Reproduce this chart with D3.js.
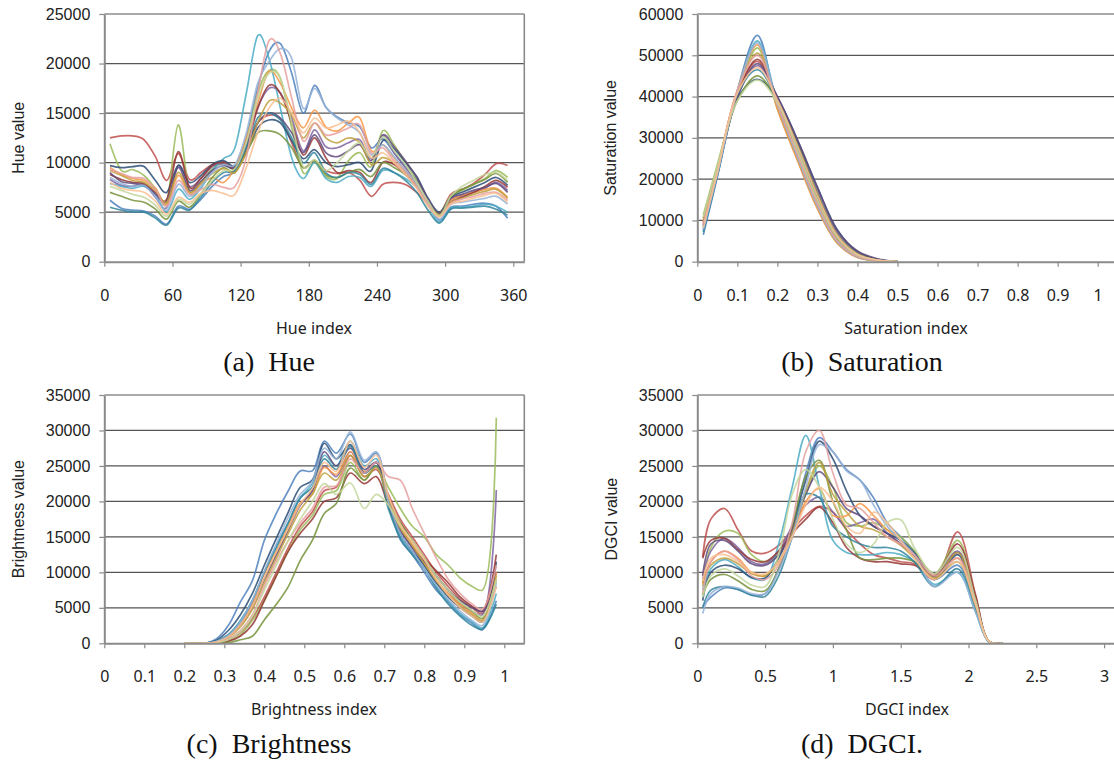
<!DOCTYPE html>
<html>
<head>
<meta charset="utf-8">
<script src="https://cdn.jsdelivr.net/npm/d3@7"></script>
<style>
  body { margin: 0; background: #fff; }
  svg { display: block; }
</style>
</head>
<body>
<svg id="chart" width="1114" height="761"></svg>
<script>
// ---- data (values in thousands) ----
const palette = ['#4F81BD', '#C0504D', '#9BBB59', '#8064A2', '#4BACC6', '#F79646', '#2C4D75', '#953735',
  '#77933C', '#604A7B', '#31859C', '#C0A040', '#95B3D7', '#E6A0A0', '#C3D69B', '#FAC090'];

const hueIndex = [5, 15, 25, 35, 45, 55, 65, 75, 85, 95, 105, 115, 125, 135, 145, 155, 165, 175, 185, 195,
  205, 215, 225, 235, 245, 255, 265, 275, 285, 295, 305, 315, 325, 335, 345, 355];
const hueTicks = [0, 60, 120, 180, 240, 300, 360];
const hueValueTicks = [0, 5000, 10000, 15000, 20000, 25000];
const hueSeries = [
  [6.2, 5.4, 5.2, 5.1, 4.6, 3.8, 5.6, 5.3, 6.3, 7.6, 8.6, 9.2, 12.5, 17.5, 21.2, 22.0, 19.0, 15.0, 17.8, 15.6, 14.6, 14.0, 13.6, 11.5, 12.4, 11.0, 9.6, 8.2, 6.2, 4.2, 5.5, 5.6, 5.8, 5.9, 5.6, 4.4],
  [12.5, 12.7, 12.7, 12.3, 10.6, 8.2, 10.9, 8.3, 9.0, 9.8, 10.1, 9.6, 11.5, 14.0, 14.8, 14.4, 12.0, 9.5, 10.2, 9.2, 8.9, 9.0, 8.2, 6.6, 7.8, 8.0, 7.8, 7.0, 5.8, 4.9, 6.8, 7.3, 7.9, 8.8, 9.9, 9.7],
  [11.9, 9.2, 9.3, 8.7, 7.4, 6.0, 13.8, 7.0, 8.0, 9.4, 9.9, 9.4, 12.0, 17.0, 19.3, 18.5, 13.5, 9.0, 10.0, 8.6, 8.4, 10.2, 11.0, 9.6, 13.2, 11.8, 10.0, 8.2, 6.2, 4.8, 6.6, 7.2, 7.8, 8.4, 9.2, 8.5],
  [8.3, 7.7, 7.6, 7.8, 6.5, 5.5, 9.7, 7.6, 8.4, 9.6, 9.9, 9.5, 11.8, 15.5, 17.5, 17.0, 14.5, 11.2, 13.3, 11.6, 11.5, 12.0, 12.3, 10.4, 12.7, 11.0, 9.5, 8.0, 6.0, 4.7, 6.3, 6.6, 7.0, 7.4, 8.0, 7.2],
  [7.9, 7.6, 7.4, 7.6, 6.8, 5.0, 7.3, 6.3, 7.4, 9.2, 10.4, 11.5, 17.0, 22.8, 20.5, 15.5, 10.5, 8.4, 10.0, 8.4, 8.0, 8.6, 8.5, 7.6, 9.2, 9.0, 8.4, 7.5, 5.7, 4.0, 5.4, 5.5, 5.6, 5.8, 5.6, 5.0],
  [9.5, 8.8, 8.4, 8.2, 7.4, 5.8, 8.7, 6.9, 7.8, 8.5, 8.0, 9.5, 12.5, 16.0, 19.2, 18.0, 15.5, 13.5, 15.3, 13.6, 13.2, 14.0, 14.5, 11.2, 11.8, 10.5, 9.2, 7.8, 6.0, 4.8, 6.2, 6.7, 7.0, 7.3, 7.4, 6.5],
  [9.7, 9.5, 9.6, 9.6, 8.2, 7.0, 9.7, 8.0, 8.7, 9.8, 10.2, 9.6, 11.0, 13.5, 14.3, 14.0, 12.2, 10.4, 11.3, 10.0, 9.6, 9.8, 10.0, 9.2, 12.2, 11.4, 10.0, 8.6, 6.4, 5.0, 6.5, 7.0, 7.5, 8.0, 8.5, 7.7],
  [8.8, 8.3, 8.0, 7.9, 7.0, 6.3, 11.1, 7.5, 8.4, 9.7, 10.0, 9.4, 11.5, 15.5, 17.8, 17.0, 14.0, 10.8, 12.5, 10.5, 9.0, 9.2, 9.0, 8.0, 10.0, 9.8, 8.8, 7.6, 5.8, 4.6, 6.0, 6.5, 7.0, 7.6, 8.2, 7.5],
  [7.0, 6.6, 6.2, 6.0, 5.3, 4.3, 6.1, 5.5, 6.8, 8.5, 9.5, 9.0, 11.0, 13.0, 13.2, 12.8, 11.5, 9.5, 10.2, 8.8, 8.5, 9.0, 9.3, 8.6, 10.0, 9.5, 8.8, 7.8, 6.0, 4.9, 6.6, 7.3, 7.8, 8.3, 8.9, 8.0],
  [9.0, 8.1, 7.9, 7.7, 6.8, 6.1, 9.5, 7.2, 8.1, 9.2, 9.7, 9.5, 11.5, 14.0, 15.0, 14.5, 13.0, 11.0, 12.8, 11.0, 10.6, 11.2, 11.8, 10.2, 12.8, 11.6, 10.2, 8.5, 6.3, 4.9, 6.4, 6.8, 7.2, 7.5, 7.9, 7.0],
  [5.5, 5.2, 5.0, 5.0, 4.4, 3.7, 5.4, 5.2, 6.5, 8.0, 9.0, 9.2, 11.5, 14.5, 15.0, 14.3, 12.5, 10.0, 11.0, 9.0, 8.5, 9.0, 8.8, 7.8, 9.4, 9.0, 8.2, 7.0, 5.2, 3.9, 5.3, 5.4, 5.5, 5.6, 5.3, 4.7],
  [9.2, 8.7, 8.2, 8.0, 7.2, 6.0, 9.0, 7.0, 7.9, 8.9, 9.4, 9.0, 11.0, 14.0, 16.2, 16.0, 14.8, 12.5, 14.0, 12.5, 12.0, 12.5, 12.0, 9.8, 10.5, 10.0, 9.0, 7.8, 5.9, 4.7, 6.0, 6.4, 6.8, 7.1, 7.3, 6.4],
  [8.5, 7.9, 7.6, 7.7, 6.6, 5.2, 7.8, 6.6, 7.6, 9.0, 9.8, 9.8, 13.0, 18.0, 20.2, 21.5, 20.5, 15.5, 17.5, 15.6, 14.5, 13.8, 13.0, 10.8, 11.8, 10.6, 9.2, 7.8, 5.9, 4.3, 5.8, 6.0, 6.2, 6.4, 6.6, 5.8],
  [9.3, 8.9, 8.5, 8.4, 7.3, 5.6, 8.2, 6.8, 7.3, 7.8, 7.5, 7.6, 10.5, 17.0, 22.3, 21.0, 16.5, 12.2, 14.0, 12.8, 13.0, 13.5, 13.8, 11.0, 11.5, 10.2, 9.0, 7.6, 5.8, 4.6, 5.9, 6.3, 6.6, 6.9, 7.0, 6.2],
  [7.6, 7.2, 6.8, 6.5, 5.7, 4.6, 6.3, 5.8, 6.9, 8.2, 9.2, 9.4, 12.0, 16.5, 19.0, 18.5, 14.0, 9.6, 10.3, 9.2, 10.0, 11.2, 12.0, 10.5, 12.6, 11.2, 9.8, 8.0, 6.1, 4.6, 6.6, 7.6, 8.2, 8.8, 9.0, 8.2],
  [8.0, 7.4, 7.2, 7.0, 6.1, 4.8, 6.5, 6.0, 6.9, 7.2, 6.9, 6.8, 9.5, 13.0, 15.5, 16.5, 15.0, 13.0, 14.5, 13.5, 13.8, 14.2, 13.0, 10.5, 11.0, 10.0, 8.8, 7.4, 5.6, 4.5, 5.8, 6.1, 6.4, 6.7, 6.9, 6.0]
];

const satIndex = [0.015, 0.05, 0.1, 0.15, 0.2, 0.25, 0.3, 0.35, 0.4, 0.45, 0.5];
const satTicks = [0, 0.1, 0.2, 0.3, 0.4, 0.5, 0.6, 0.7, 0.8, 0.9, 1];
const satValueTicks = [0, 10000, 20000, 30000, 40000, 50000, 60000];
const satSeries = [
  [6.5, 20.5, 41.5, 54.8, 37.5, 25.0, 13.5, 4.8, 1.2, 0.3, 0],
  [9.0, 22.0, 41.0, 48.5, 39.0, 27.5, 15.5, 6.0, 1.6, 0.4, 0],
  [11.3, 23.5, 40.5, 51.8, 37.0, 24.8, 13.0, 4.5, 1.1, 0.2, 0],
  [8.0, 21.0, 40.0, 47.5, 40.0, 29.0, 17.0, 7.0, 2.0, 0.5, 0],
  [7.5, 21.0, 41.0, 53.5, 38.5, 25.0, 13.2, 4.6, 1.1, 0.3, 0],
  [10.0, 22.5, 41.5, 52.5, 37.0, 24.5, 12.8, 4.4, 1.0, 0.2, 0],
  [8.5, 21.5, 39.5, 44.2, 39.5, 29.5, 18.0, 7.7, 2.4, 0.6, 0],
  [9.5, 22.0, 40.5, 49.0, 39.5, 28.0, 16.0, 6.2, 1.8, 0.4, 0],
  [10.5, 22.5, 39.0, 45.0, 39.0, 28.5, 16.5, 6.5, 1.9, 0.5, 0],
  [8.8, 21.5, 39.8, 48.0, 40.0, 29.5, 18.0, 7.5, 2.6, 0.7, 0],
  [7.2, 20.8, 40.5, 46.5, 39.0, 27.5, 15.0, 5.5, 1.5, 0.4, 0],
  [9.8, 22.2, 41.0, 50.5, 38.5, 26.5, 14.5, 5.2, 1.4, 0.3, 0],
  [7.8, 21.2, 41.2, 53.0, 38.0, 25.5, 13.5, 4.8, 1.2, 0.3, 0],
  [9.2, 22.2, 41.5, 50.0, 38.0, 26.0, 14.0, 5.0, 1.3, 0.3, 0],
  [10.8, 23.0, 39.0, 44.0, 38.5, 27.0, 15.0, 5.8, 1.6, 0.4, 0],
  [8.2, 21.5, 40.8, 47.0, 39.2, 28.0, 16.0, 6.2, 1.8, 0.4, 0]
];

const brightIndex = [0.2, 0.25, 0.28, 0.31, 0.34, 0.37, 0.40, 0.43, 0.46, 0.49, 0.52, 0.55, 0.58, 0.615,
  0.65, 0.68, 0.71, 0.74, 0.77, 0.80, 0.83, 0.86, 0.89, 0.92, 0.945, 0.98];
const brightTicks = [0, 0.1, 0.2, 0.3, 0.4, 0.5, 0.6, 0.7, 0.8, 0.9, 1];
const brightValueTicks = [0, 5000, 10000, 15000, 20000, 25000, 30000, 35000];
const brightSeries = [
  [0, 0, 0.6, 2.5, 5.8, 8.8, 14.5, 18.3, 21.5, 24.3, 24.3, 28.5, 26.8, 29.5, 25.5, 26.8, 20.5, 14.6, 12.5, 10.0, 7.5, 5.8, 4.0, 2.8, 1.9, 6.0],
  [0, 0, 0.1, 0.5, 1.5, 3.5, 6.5, 10.0, 13.5, 16.5, 18.5, 21.5, 22.0, 26.5, 23.5, 24.5, 21.0, 17.5, 15.0, 12.5, 10.0, 8.0, 6.2, 5.0, 4.2, 10.0],
  [0, 0, 0.05, 0.3, 1.2, 3.2, 6.0, 9.5, 13.0, 16.0, 18.0, 21.0, 21.5, 25.5, 23.0, 25.0, 22.0, 19.0, 16.5, 15.0, 12.5, 11.0, 9.2, 8.0, 7.5, 31.8],
  [0, 0, 0.2, 1.0, 2.8, 5.5, 9.0, 12.5, 16.0, 19.5, 21.5, 25.0, 23.5, 27.0, 24.0, 25.5, 20.0, 16.0, 13.5, 11.0, 8.5, 7.0, 5.5, 4.5, 4.0, 21.6],
  [0, 0, 0.3, 1.2, 3.2, 6.0, 10.0, 13.8, 17.0, 20.5, 22.5, 26.5, 25.0, 28.5, 25.0, 26.0, 19.5, 15.0, 12.8, 10.5, 8.0, 6.0, 4.2, 3.0, 2.2, 7.0],
  [0, 0, 0.2, 0.9, 2.6, 5.4, 9.8, 13.0, 16.5, 19.8, 21.0, 24.8, 23.8, 27.0, 24.2, 25.0, 20.5, 16.5, 14.0, 11.5, 9.0, 7.0, 5.5, 4.2, 3.2, 10.0],
  [0, 0, 0.4, 1.8, 4.0, 7.0, 11.0, 14.8, 18.5, 22.0, 23.0, 28.2, 26.0, 28.0, 24.0, 25.5, 19.5, 15.5, 13.0, 11.0, 8.5, 6.5, 5.0, 3.8, 3.0, 11.5],
  [0, 0, 0.05, 0.3, 1.0, 2.6, 6.0, 9.5, 13.0, 15.5, 17.5, 20.0, 20.5, 24.0, 22.5, 23.5, 19.5, 17.0, 14.5, 12.0, 10.2, 8.5, 6.5, 5.2, 4.5, 12.5],
  [0, 0, 0, 0.1, 0.5, 1.0, 3.3, 5.5, 8.0, 11.7, 14.5, 18.3, 19.7, 24.7, 23.0, 25.0, 20.5, 17.0, 14.5, 12.0, 9.5, 7.5, 5.8, 4.5, 3.5, 9.0],
  [0, 0, 0.2, 0.9, 2.5, 5.0, 9.0, 12.5, 16.0, 19.5, 21.5, 27.0, 25.0, 27.5, 24.5, 25.5, 20.0, 16.0, 13.5, 11.5, 9.5, 7.5, 6.0, 5.0, 4.5, 8.0],
  [0, 0, 0.3, 1.2, 3.0, 6.0, 10.0, 13.5, 17.0, 20.5, 22.0, 26.0, 24.5, 27.8, 24.0, 25.0, 19.0, 14.8, 12.5, 10.5, 7.8, 5.5, 3.8, 2.5, 2.0, 5.5],
  [0, 0, 0.15, 0.8, 2.3, 4.8, 8.5, 12.0, 15.5, 18.8, 21.0, 24.0, 23.0, 26.5, 23.5, 24.8, 20.0, 16.2, 13.8, 11.2, 8.8, 6.8, 5.2, 4.0, 3.2, 9.5],
  [0, 0, 0.25, 1.1, 3.0, 6.0, 10.2, 14.0, 17.8, 21.0, 22.8, 27.5, 26.0, 29.8, 25.8, 27.0, 20.0, 15.5, 13.0, 10.5, 8.2, 6.2, 4.5, 3.2, 2.5, 8.5],
  [0, 0, 0.1, 0.6, 1.8, 4.0, 8.0, 11.5, 14.5, 17.0, 19.0, 22.0, 22.2, 26.0, 24.0, 25.5, 23.5, 23.0, 19.0, 15.5, 12.0, 9.0, 7.0, 5.5, 4.8, 11.0],
  [0, 0, 0.1, 0.5, 1.6, 3.8, 7.5, 11.0, 14.5, 17.5, 20.0, 22.5, 21.0, 22.6, 19.0, 21.0, 19.5, 16.5, 14.5, 12.0, 9.5, 7.5, 5.8, 4.6, 3.8, 9.0],
  [0, 0, 0.2, 0.9, 2.6, 5.2, 9.2, 12.8, 16.2, 19.6, 21.8, 25.5, 24.2, 28.5, 24.8, 26.5, 20.8, 16.8, 14.2, 11.8, 9.0, 6.8, 5.0, 3.8, 3.0, 8.0]
];

const dgciIndex = [0.04, 0.1, 0.2, 0.3, 0.4, 0.5, 0.6, 0.7, 0.8, 0.9, 1.0, 1.1, 1.2, 1.3, 1.4, 1.5, 1.6,
  1.75, 1.92, 2.05, 2.15, 2.25];
const dgciTicks = [0, 0.5, 1, 1.5, 2, 2.5, 3];
const dgciValueTicks = [0, 5000, 10000, 15000, 20000, 25000, 30000, 35000];
const dgciSeries = [
  [5.2, 6.5, 7.8, 7.6, 6.8, 7.0, 10.5, 16.0, 24.0, 29.0, 27.0, 24.5, 23.0, 20.5, 17.0, 15.0, 13.0, 9.0, 11.0, 5.5, 0.3, 0],
  [12.2, 17.5, 19.0, 16.0, 13.0, 12.7, 13.8, 16.0, 18.0, 19.3, 18.5, 16.0, 14.0, 12.5, 12.0, 11.5, 11.2, 9.0, 15.7, 7.0, 0.3, 0],
  [8.0, 13.5, 15.8, 15.5, 12.5, 11.5, 12.5, 16.0, 21.0, 25.0, 22.0, 17.0, 16.5, 17.0, 16.0, 15.0, 13.0, 9.8, 14.5, 6.5, 0.3, 0],
  [9.0, 13.0, 14.8, 13.5, 11.5, 11.2, 13.0, 16.5, 19.5, 20.6, 18.5, 16.5, 17.0, 17.5, 15.5, 14.0, 12.5, 9.8, 13.0, 6.0, 0.3, 0],
  [7.5, 10.5, 11.8, 10.8, 9.2, 9.0, 14.0, 22.0, 29.3, 22.0, 14.5, 12.8, 12.5, 12.5, 12.8, 12.5, 11.5, 8.3, 10.0, 4.5, 0.2, 0],
  [8.3, 11.5, 13.0, 12.0, 10.0, 9.5, 11.5, 15.0, 20.0, 21.8, 18.0, 18.0, 19.7, 18.0, 16.0, 14.5, 12.5, 9.6, 12.0, 5.8, 0.3, 0],
  [6.0, 10.0, 11.0, 10.5, 9.3, 9.2, 12.0, 16.5, 23.0, 28.5, 26.0, 21.5, 18.0, 16.5, 15.5, 14.5, 12.8, 9.0, 12.5, 5.5, 0.3, 0],
  [12.0, 14.5, 14.8, 13.2, 11.8, 11.5, 13.0, 15.5, 17.5, 19.2, 17.0, 13.5, 12.0, 11.5, 11.5, 11.2, 11.0, 9.5, 14.0, 6.8, 0.3, 0],
  [6.8, 9.0, 9.7, 8.8, 7.6, 7.4, 10.5, 16.5, 23.5, 25.8, 20.0, 16.0, 12.0, 11.8, 12.0, 12.0, 11.5, 9.2, 11.5, 5.2, 0.2, 0],
  [9.5, 14.0, 14.5, 13.0, 11.2, 11.0, 12.5, 16.0, 21.0, 24.2, 22.0, 19.0, 18.0, 16.5, 15.5, 14.0, 12.2, 9.4, 12.8, 5.8, 0.3, 0],
  [5.0, 7.5, 8.0, 7.6, 6.8, 6.6, 9.5, 15.0, 21.0, 20.5, 16.5, 15.0, 14.0, 13.5, 13.5, 13.0, 11.5, 8.0, 10.5, 4.8, 0.2, 0],
  [8.5, 11.0, 12.0, 11.2, 9.8, 9.5, 11.5, 15.5, 21.5, 25.5, 21.0, 18.5, 16.5, 16.0, 15.0, 13.8, 12.0, 9.2, 12.8, 5.6, 0.3, 0],
  [4.2, 7.0, 8.0, 7.8, 7.0, 7.0, 10.2, 15.0, 22.0, 28.0, 27.0, 24.3, 23.0, 19.5, 16.5, 14.5, 12.5, 8.0, 10.0, 4.5, 0.2, 0],
  [7.0, 11.5, 13.0, 11.8, 9.5, 9.0, 11.0, 17.0, 27.0, 30.0, 24.0, 19.5, 19.0, 17.0, 15.0, 14.0, 12.5, 9.5, 12.0, 5.8, 0.3, 0],
  [6.5, 9.5, 10.5, 9.5, 8.2, 8.0, 12.5, 21.0, 24.5, 22.0, 17.5, 14.0, 12.8, 14.0, 17.0, 17.4, 13.5, 9.8, 13.5, 6.2, 0.3, 0],
  [8.8, 12.0, 12.5, 11.5, 10.0, 9.8, 11.5, 15.0, 19.5, 22.0, 20.0, 16.5, 15.5, 18.5, 17.0, 14.5, 12.0, 9.0, 11.5, 5.5, 0.3, 0]
];

// ---- drawing ----
const svg = d3.select('#chart');

function drawPanel(p) {
  const g = svg.append('g');
  const x = d3.scaleLinear().domain([0, p.xEnd]).range([p.left, p.right]);
  const y = d3.scaleLinear().domain([0, p.yMax]).range([p.bottom, p.top]);

  // gridlines
  g.append('g')
    .selectAll('line')
    .data(p.yTicks.filter(d => d > 0))
    .join('line')
    .attr('x1', p.left).attr('x2', p.right)
    .attr('y1', d => y(d)).attr('y2', d => y(d))
    .attr('stroke', '#555').attr('stroke-width', 1.2);

  // series
  const clipId = 'clip' + p.id;
  svg.append('clipPath').attr('id', clipId)
    .append('rect')
    .attr('x', p.left).attr('y', p.top - 6)
    .attr('width', p.right - p.left).attr('height', p.bottom - p.top + 6);

  const line = d3.line()
    .x((d, i) => x(p.xs[i]))
    .y(d => y(d * 1000))
    .curve(d3.curveCatmullRom.alpha(p.alpha));

  g.append('g')
    .attr('clip-path', `url(#${clipId})`)
    .selectAll('path')
    .data(p.series)
    .join('path')
    .attr('fill', 'none')
    .attr('stroke', (d, i) => palette[i % palette.length])
    .attr('stroke-width', 1.7)
    .attr('stroke-opacity', 0.85)
    .attr('d', line);

  // y axis
  const yAxis = g.append('g')
    .attr('transform', `translate(${p.left},0)`)
    .call(d3.axisLeft(y).tickValues(p.yTicks).tickSize(5).tickSizeOuter(0).tickPadding(9).tickFormat(d => d));
  yAxis.select('.domain').attr('stroke', '#8a8a8a').attr('stroke-width', 2);
  yAxis.selectAll('.tick line').attr('stroke', '#8a8a8a').attr('stroke-width', 1.2);
  yAxis.selectAll('text')
    .attr('font-family', '"Liberation Sans", Arial, sans-serif')
    .attr('font-size', 16).attr('fill', '#222');

  // x axis
  const xAxis = g.append('g')
    .attr('transform', `translate(0,${p.bottom})`)
    .call(d3.axisBottom(x).tickValues(p.xTicks).tickSize(5).tickSizeOuter(0).tickFormat(d => d));
  xAxis.select('.domain').attr('stroke', '#8a8a8a').attr('stroke-width', 2);
  xAxis.selectAll('.tick line').attr('stroke', '#8a8a8a').attr('stroke-width', 1.2);
  xAxis.selectAll('text')
    .attr('y', 39).attr('dy', null)
    .attr('font-family', '"Noto Sans", sans-serif')
    .attr('font-size', 16).attr('fill', '#222');

  if (p.border) {
    g.append('line')
      .attr('x1', p.right).attr('x2', p.right)
      .attr('y1', p.top).attr('y2', p.bottom)
      .attr('stroke', '#8a8a8a').attr('stroke-width', 1.6);
  }

  // titles
  g.append('text')
    .attr('transform', `translate(${p.yTitleX},${(p.top + p.bottom) / 2}) rotate(-90)`)
    .attr('text-anchor', 'middle').attr('dy', '0.35em')
    .attr('font-family', '"Liberation Sans", Arial, sans-serif')
    .attr('font-size', 16).attr('fill', '#222')
    .text(p.yTitle);

  g.append('text')
    .attr('x', p.xTitleX).attr('y', p.bottom + 72)
    .attr('text-anchor', 'middle')
    .attr('font-family', '"Noto Sans", sans-serif')
    .attr('font-size', 16).attr('fill', '#222')
    .text(p.xTitle);

  g.append('text')
    .attr('x', p.capX).attr('y', p.capY)
    .attr('text-anchor', 'middle')
    .style('white-space', 'pre')
    .attr('font-family', '"Liberation Serif", "Times New Roman", serif')
    .attr('font-size', 28).attr('fill', '#111')
    .text(p.caption);
}

drawPanel({
  id: 'a', left: 104.3, right: 524.3, top: 14, bottom: 261.7, xEnd: 369.7, yMax: 25000, alpha: 0,
  xs: hueIndex, series: hueSeries, xTicks: hueTicks, yTicks: hueValueTicks, border: true,
  yTitle: 'Hue value', yTitleX: 18, xTitle: 'Hue index', xTitleX: 314,
  caption: '(a)  Hue', capX: 269, capY: 371
});
drawPanel({
  id: 'b', left: 697.3, right: 1116, top: 14, bottom: 261.7, xEnd: (1116 - 697.3) / 400.4, yMax: 60000, alpha: 0.5,
  xs: satIndex, series: satSeries, xTicks: satTicks, yTicks: satValueTicks, border: false,
  yTitle: 'Saturation value', yTitleX: 610, xTitle: 'Saturation index', xTitleX: 906,
  caption: '(b)  Saturation', capX: 862, capY: 371
});
drawPanel({
  id: 'c', left: 104.3, right: 524.3, top: 395, bottom: 643.3, xEnd: 1.05, yMax: 35000, alpha: 0.5,
  xs: brightIndex, series: brightSeries, xTicks: brightTicks, yTicks: brightValueTicks, border: true,
  yTitle: 'Brightness value', yTitleX: 18, xTitle: 'Brightness index', xTitleX: 314,
  caption: '(c)  Brightness', capX: 269, capY: 753
});
drawPanel({
  id: 'd', left: 697.3, right: 1116, top: 395, bottom: 643.3, xEnd: (1116 - 697.3) / 135.6, yMax: 35000, alpha: 0.5,
  xs: dgciIndex, series: dgciSeries, xTicks: dgciTicks, yTicks: dgciValueTicks, border: false,
  yTitle: 'DGCI value', yTitleX: 611, xTitle: 'DGCI index', xTitleX: 907,
  caption: '(d)  DGCI.', capX: 862, capY: 753
});
</script>
</body>
</html>
